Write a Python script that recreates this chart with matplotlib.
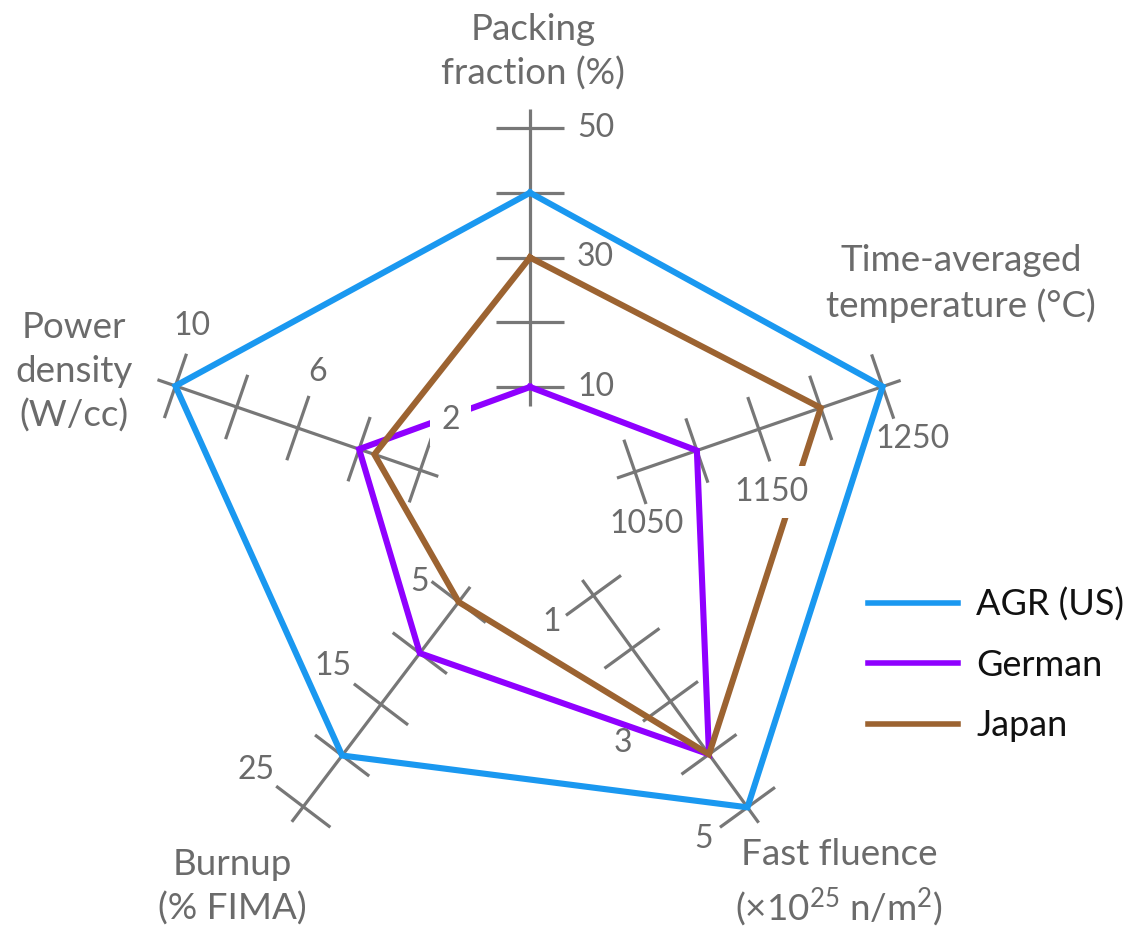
import numpy as np
import matplotlib
matplotlib.use("Agg")
import matplotlib.pyplot as plt
from matplotlib.lines import Line2D

plt.rcParams['font.family'] = ['Lato', 'DejaVu Sans']
plt.rcParams['mathtext.fontset'] = 'custom'
plt.rcParams['mathtext.rm'] = 'Lato'
plt.rcParams['mathtext.it'] = 'Lato:italic'
plt.rcParams['mathtext.bf'] = 'Lato:bold'
plt.rcParams['mathtext.default'] = 'regular'

# ---- data: radar axes listed clockwise from the top ----
axis_titles = [
    "Packing\nfraction (%)",
    "Time-averaged\ntemperature (°C)",
    "Fast fluence\n(×10$^{25}$ n/m$^{2}$)",
    "Burnup\n(% FIMA)",
    "Power\ndensity\n(W/cc)",
]
axis_ticks = [
    [10, 20, 30, 40, 50],
    [1050, 1100, 1150, 1200, 1250],
    [1, 2, 3, 4, 5],
    [5, 10, 15, 20, 25],
    [2, 4, 6, 8, 10],
]
axis_labeled_ticks = [
    [10, 30, 50],
    [1050, 1150, 1250],
    [1, 3, 5],
    [5, 15, 25],
    [2, 6, 10],
]

series_names = ["AGR (US)", "German", "Japan"]
agr_us = [40, 1250, 5, 20, 10]
german = [10, 1100, 4, 10, 4]
japan = [30, 1200, 4, 5, 3.5]
series_values = [agr_us, german, japan]
series_colors = ["#1A98F0", "#8F00FF", "#9C6331"]

# ---- layout (canvas in pixels, y pointing down) ----
W, H = 1132, 935
CX, CY = 530, 508
angles = [90, 19, -54, -127.2, 161]
r_first = [121, 111, 108, 118, 116]     # radius of the first tick
r_last = [380, 373, 370, 375, 375]      # radius of the last tick
axis_ext = 19                           # axis overhang beyond end ticks
tick_half = 34
label_offsets = [
    [(47, 0), (47, 0), (47, 0)],
    [(12, 52), (13, 63), (30, 52)],
    [(-42, 27), (-48, 42), (-44, 32)],
    [(-39, -20), (-48, -38), (-47, -37)],
    [(30, -50), (20, -56), (17, -60)],
]
boxed_labels = {(1, 1150), (4, 2)}
# anchor = baseline of the last line of each title
title_pos = [(533, 85), (961, 317), (839, 920), (232, 920), (74, 427)]

GRAY = "#777777"
TEXT = "#6B6B6B"
FS_TICK = 23
FS_TITLE = 26.5

fig = plt.figure(figsize=(W / 100, H / 100), dpi=100)
ax = fig.add_axes([0, 0, 1, 1])
ax.set_xlim(0, W)
ax.set_ylim(H, 0)
ax.set_aspect('equal')
ax.axis('off')


def unit(i):
    a = np.deg2rad(angles[i])
    return np.cos(a), -np.sin(a)


def radius(i, v):
    t = axis_ticks[i]
    lo, hi = t[0], t[-1]
    return r_first[i] + (v - lo) / (hi - lo) * (r_last[i] - r_first[i])


def point(i, v):
    ux, uy = unit(i)
    r = radius(i, v)
    return CX + r * ux, CY + r * uy


# axes and tick marks
for i in range(len(axis_titles)):
    ux, uy = unit(i)
    r0 = r_first[i] - axis_ext
    r1 = r_last[i] + axis_ext
    ax.plot([CX + r0 * ux, CX + r1 * ux], [CY + r0 * uy, CY + r1 * uy],
            color=GRAY, lw=2.3, solid_capstyle='butt', zorder=1)
    px, py = -uy, ux
    for v in axis_ticks[i]:
        x, y = point(i, v)
        ax.plot([x - tick_half * px, x + tick_half * px],
                [y - tick_half * py, y + tick_half * py],
                color=GRAY, lw=2.3, solid_capstyle='butt', zorder=1)
    for (dx, dy), v in zip(label_offsets[i], axis_labeled_ticks[i]):
        x, y = point(i, v)
        kw = {}
        if (i, v) in boxed_labels:
            kw['bbox'] = dict(boxstyle='square,pad=0.35', fc='white', ec='none')
        ax.text(x + dx, y + dy, str(v), fontsize=FS_TICK, color=TEXT,
                ha='left' if i == 0 else 'center', va='center', zorder=5, **kw)
    tx, ty = title_pos[i]
    ax.text(tx, ty, axis_titles[i], fontsize=FS_TITLE, color=TEXT, ha='center',
            va='baseline', multialignment='center', linespacing=1.4, zorder=5)

# data polygons
for name, vals, col in zip(series_names, series_values, series_colors):
    pts = [point(i, v) for i, v in enumerate(vals)]
    pts.append(pts[0])
    xs, ys = zip(*pts)
    ax.plot(xs, ys, color=col, lw=4.4, solid_joinstyle='miter', zorder=3)

handles = [Line2D([], [], color=c, lw=4.0) for c in series_colors]
ax.legend(handles, series_names, loc='upper left',
          bbox_to_anchor=(868, 588), bbox_transform=ax.transData,
          frameon=False, fontsize=26, handlelength=2.5, handletextpad=0.5,
          labelspacing=0.75, borderpad=0, borderaxespad=0,
          labelcolor='#111111')

fig.savefig('out.png', dpi=100)
